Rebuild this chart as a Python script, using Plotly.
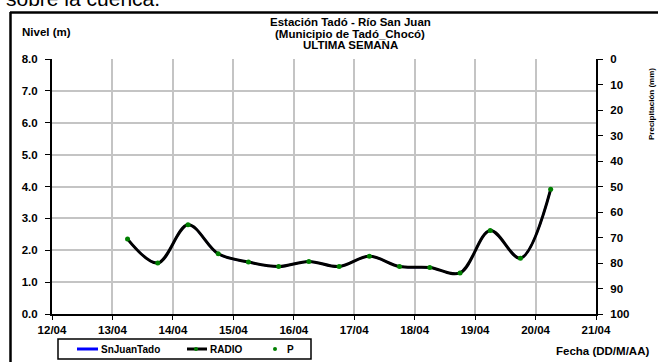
import plotly.graph_objects as go

# Datos de nivel (estación Tadó - Río San Juan), última semana
fechas = [
    "2024-04-13 06:00", "2024-04-13 18:00", "2024-04-14 06:00", "2024-04-14 18:00",
    "2024-04-15 06:00", "2024-04-15 18:00", "2024-04-16 06:00", "2024-04-16 18:00",
    "2024-04-17 06:00", "2024-04-17 18:00", "2024-04-18 06:00", "2024-04-18 18:00",
    "2024-04-19 06:00", "2024-04-19 18:00", "2024-04-20 06:00",
]
nivel_radio = [2.35, 1.60, 2.80, 1.89, 1.63, 1.49, 1.65, 1.49,
               1.81, 1.49, 1.46, 1.29, 2.62, 1.75, 3.91]
# SnJuanTado queda oculta bajo la curva RADIO
nivel_snjuan = nivel_radio
# precipitación: sin registros en la semana
fechas_p = ["2024-04-13 06:00"]
precip_p = [None]

ticks_fecha = ["2024-04-%02d" % d for d in range(12, 22)]
ticks_nivel = [0, 1, 2, 3, 4, 5, 6, 7, 8]
ticks_precip = list(range(0, 101, 10))

FONT = "Liberation Sans, Arial, sans-serif"

W, H = 658, 362
# área de trazado en pixeles
L, R, T, B = 52, 596, 59, 314


def px_x(px):
    return (px - L) / (R - L)


def px_y(py):
    return (B - py) / (B - T)


fig = go.Figure()

fig.add_trace(go.Scatter(
    x=fechas, y=nivel_snjuan, name="SnJuanTado",
    mode="lines", line=dict(color="#0000ff", width=2, shape="spline", smoothing=1.0)
))
fig.add_trace(go.Scatter(
    x=fechas, y=nivel_radio, name="RADIO",
    mode="lines+markers",
    line=dict(color="black", width=3, shape="spline", smoothing=1.0),
    marker=dict(color="#008000", size=5)
))
fig.add_trace(go.Scatter(
    x=fechas_p, y=precip_p, name="P", yaxis="y2",
    mode="markers", marker=dict(color="#008000", size=5)
))

tick_font = dict(family=FONT, size=11.5, color="black", weight="bold")

fig.update_layout(
    width=W, height=H,
    margin=dict(l=L, r=W - R, t=T, b=H - B, autoexpand=False),
    paper_bgcolor="white", plot_bgcolor="white",
    font=dict(family=FONT, color="black"),
    showlegend=False,
    xaxis=dict(
        type="date", range=[ticks_fecha[0], ticks_fecha[-1]],
        tickvals=ticks_fecha, tickformat="%d/%m",
        showgrid=True, gridcolor="#c4c4c4", gridwidth=1.5,
        showline=True, linecolor="black", linewidth=2,
        ticks="outside", ticklen=4, tickcolor="black",
        tickfont=tick_font, zeroline=False,
    ),
    yaxis=dict(
        range=[0, 8], tickvals=ticks_nivel, tickformat=".1f",
        showgrid=True, gridcolor="#c4c4c4", gridwidth=1.5,
        showline=True, linecolor="black", linewidth=2,
        ticks="outside", ticklen=5, tickcolor="black",
        tickfont=tick_font, zeroline=False, ticklabelstandoff=5,
    ),
    yaxis2=dict(
        overlaying="y", side="right", range=[100, 0], tickvals=ticks_precip,
        showgrid=False, showline=True, linecolor="black", linewidth=2,
        ticks="outside", ticklen=5, tickcolor="black",
        tickfont=tick_font, zeroline=False, ticklabelstandoff=5,
    ),
)

# título en tres líneas
titulo = ["Estación Tadó - Río San Juan", "(Municipio de Tadó_Chocó)", "ULTIMA SEMANA"]
for linea, yy in zip(titulo, [22, 34, 45]):
    fig.add_annotation(
        text="<b>%s</b>" % linea, xref="paper", yref="paper",
        x=px_x(350), y=px_y(yy), showarrow=False, yanchor="middle",
        font=dict(family=FONT, size=11.5, color="black")
    )
fig.add_annotation(
    text="<b>Nivel (m)</b>", xref="paper", yref="paper",
    x=px_x(20), y=px_y(32), xanchor="left", yanchor="middle", showarrow=False,
    font=dict(family=FONT, size=11.5, color="black")
)
fig.add_annotation(
    text="<b>Fecha (DD/M/AA)</b>", xref="paper", yref="paper",
    x=px_x(651), y=px_y(351), xanchor="right", yanchor="middle", showarrow=False,
    font=dict(family=FONT, size=11.5, color="black")
)
fig.add_annotation(
    text="<b>Precipitación (mm)</b>", xref="paper", yref="paper",
    x=px_x(651), y=px_y(104), xanchor="center", yanchor="middle", showarrow=False,
    textangle=-90, font=dict(family=FONT, size=8, color="black")
)
# texto del documento que queda cortado arriba
fig.add_annotation(
    text="sobre la cuenca.", xref="paper", yref="paper",
    x=px_x(4), y=px_y(12), xanchor="left", yanchor="bottom", showarrow=False,
    font=dict(family=FONT, size=21, color="black")
)

# leyenda dibujada a mano (la de plotly queda demasiado alta)
LY = 349
fig.add_shape(type="rect", xref="paper", yref="paper",
              x0=px_x(58), x1=px_x(311), y0=px_y(339), y1=px_y(359),
              line=dict(color="black", width=1.5), fillcolor="white")
fig.add_shape(type="line", xref="paper", yref="paper",
              x0=px_x(77), x1=px_x(98), y0=px_y(LY), y1=px_y(LY),
              line=dict(color="#0000ff", width=3))
fig.add_shape(type="line", xref="paper", yref="paper",
              x0=px_x(187), x1=px_x(207), y0=px_y(LY), y1=px_y(LY),
              line=dict(color="black", width=3))
for cx in (196, 275):
    fig.add_shape(type="circle", xref="paper", yref="paper",
                  x0=px_x(cx - 2), x1=px_x(cx + 2), y0=px_y(LY - 2), y1=px_y(LY + 2),
                  line=dict(width=0), fillcolor="#008000")
for nombre, lx in (("SnJuanTado", 99), ("RADIO", 208), ("P", 285)):
    fig.add_annotation(
        text="<b>%s</b>" % nombre, xref="paper", yref="paper",
        x=px_x(lx), y=px_y(LY), xanchor="left", yanchor="middle", showarrow=False,
        font=dict(family=FONT, size=10, color="black")
    )

# marco del gráfico
fig.add_shape(type="line", xref="paper", yref="paper",
              x0=px_x(10), x1=px_x(700), y0=px_y(12.5), y1=px_y(12.5),
              line=dict(color="black", width=2.5))
fig.add_shape(type="line", xref="paper", yref="paper",
              x0=px_x(10.5), x1=px_x(10.5), y0=px_y(12), y1=px_y(400),
              line=dict(color="black", width=2.5))

fig.write_html("out.html", config={"displayModeBar": False},
               post_script="document.body.style.margin='0px';")
